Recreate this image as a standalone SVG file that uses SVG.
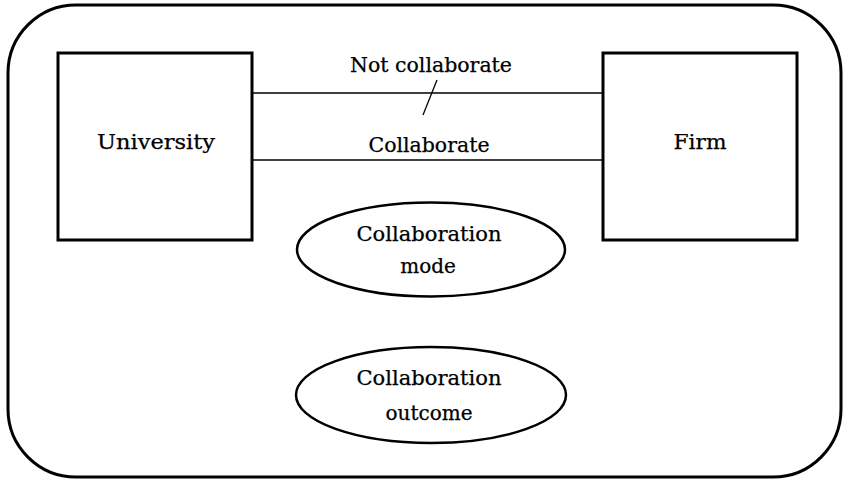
<svg xmlns="http://www.w3.org/2000/svg" width="844" height="480" viewBox="0 0 844 480">
  <style>
    .frame { fill: none; stroke: #000; stroke-width: 3; }
    .box { fill: #fff; stroke: #000; stroke-width: 3; }
    .oval { fill: #fff; stroke: #000; stroke-width: 2.5; }
    .link { fill: none; stroke: #000; stroke-width: 1.3; }
    .lbl { font-family: "DejaVu Serif", "Liberation Serif", serif; font-size: 20px; fill: #000; stroke: #000; stroke-width: 0.25; text-anchor: middle; }
  </style>
  <rect width="844" height="480" fill="#fff"/>

  <!-- outer boundary -->
  <rect class="frame" x="8" y="5" width="833" height="472" rx="68" ry="68"/>

  <!-- connectors between the two parties -->
  <g id="connectors">
    <line class="link" x1="252" y1="93" x2="603" y2="93"/>
    <line class="link" x1="252" y1="160" x2="603" y2="160"/>
    <line class="link" x1="437" y1="80" x2="423" y2="115"/>
    <text class="lbl" x="431" y="72" textLength="162" lengthAdjust="spacingAndGlyphs">Not collaborate</text>
    <text class="lbl" x="429" y="152" textLength="121" lengthAdjust="spacingAndGlyphs">Collaborate</text>
  </g>

  <g id="university">
    <rect class="box" x="58" y="53" width="194" height="187"/>
    <text class="lbl" x="156" y="149" textLength="118" lengthAdjust="spacingAndGlyphs">University</text>
  </g>

  <g id="firm">
    <rect class="box" x="603" y="53" width="194" height="187"/>
    <text class="lbl" x="700" y="149" textLength="53" lengthAdjust="spacingAndGlyphs">Firm</text>
  </g>

  <g id="mode">
    <ellipse class="oval" cx="431" cy="249.5" rx="134" ry="47"/>
    <text class="lbl" x="429" y="241" textLength="145" lengthAdjust="spacingAndGlyphs">Collaboration</text>
    <text class="lbl" x="428" y="273">mode</text>
  </g>

  <g id="outcome">
    <ellipse class="oval" cx="431" cy="395" rx="135" ry="48"/>
    <text class="lbl" x="429" y="385" textLength="145" lengthAdjust="spacingAndGlyphs">Collaboration</text>
    <text class="lbl" x="429" y="420">outcome</text>
  </g>
</svg>
